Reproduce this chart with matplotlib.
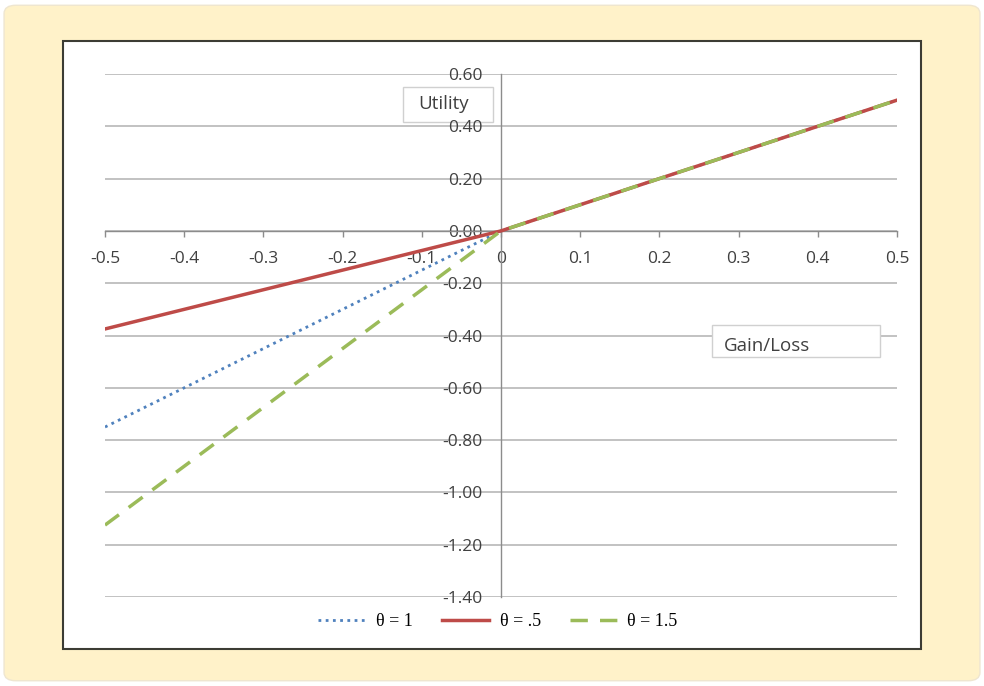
import matplotlib.pyplot as plt
from matplotlib.patches import Rectangle, FancyBboxPatch

# gain/loss values and utility for each theta
x = [-0.5, -0.4, -0.3, -0.2, -0.1, 0.0, 0.1, 0.2, 0.3, 0.4, 0.5]
u_theta1 = [-0.75, -0.60, -0.45, -0.30, -0.15, 0.0, 0.1, 0.2, 0.3, 0.4, 0.5]
u_theta05 = [-0.375, -0.30, -0.225, -0.15, -0.075, 0.0, 0.1, 0.2, 0.3, 0.4, 0.5]
u_theta15 = [-1.125, -0.90, -0.675, -0.45, -0.225, 0.0, 0.1, 0.2, 0.3, 0.4, 0.5]

xticks = [-0.5, -0.4, -0.3, -0.2, -0.1, 0, 0.1, 0.2, 0.3, 0.4, 0.5]
xtick_labels = ['-0.5', '-0.4', '-0.3', '-0.2', '-0.1', '0', '0.1', '0.2', '0.3', '0.4', '0.5']
yticks = [0.6, 0.4, 0.2, 0.0, -0.2, -0.4, -0.6, -0.8, -1.0, -1.2, -1.4]

W, H = 984, 686


def fx(px):
    return px / W


def fy(py):
    return 1 - py / H


fig = plt.figure(figsize=(W / 100, H / 100), dpi=100, facecolor='white')

# cream frame and white chart area
fig.patches.append(FancyBboxPatch((fx(8), fy(678)), fx(968), (674 - 4) / H,
                                  boxstyle='round,pad=0.004,rounding_size=0.012',
                                  transform=fig.transFigure, facecolor='#FFF2C9',
                                  edgecolor='#EFE6D0', lw=1, zorder=-2))
fig.patches.append(Rectangle((fx(63), fy(649)), (921 - 63) / W, (649 - 41) / H,
                             transform=fig.transFigure, facecolor='white',
                             edgecolor='#3C3C34', lw=1.5, zorder=-1))

ax = fig.add_axes([fx(105), fy(597), (897 - 105) / W, (597 - 74) / H])
ax.set_facecolor('none')
ax.set_xlim(-0.5, 0.5)
ax.set_ylim(-1.4, 0.6)

for yv in yticks:
    ax.axhline(yv, color='#BDBDBD', lw=1.3, zorder=0.5)

for s in ['top', 'right']:
    ax.spines[s].set_visible(False)
ax.spines['left'].set_position(('data', 0))
ax.spines['bottom'].set_position(('data', 0))
ax.spines['left'].set_color('#8C8C8C')
ax.spines['bottom'].set_color('#8C8C8C')
ax.spines['left'].set_linewidth(1)
ax.spines['bottom'].set_linewidth(1)

tick_font = dict(family='Open Sans', size=12.5, color='#404040')
ax.set_xticks(xticks)
ax.set_xticklabels(xtick_labels, **tick_font)
ax.set_yticks(yticks)
ax.set_yticklabels(['%.2f' % v for v in yticks], **tick_font)
ax.tick_params(axis='x', direction='out', length=4.5, width=1, color='#8C8C8C', pad=10)
ax.tick_params(axis='y', length=0, pad=13)

ax.plot(x, u_theta1, color='#4F81BD', lw=2, linestyle=(0, (1, 1.6)), label='θ = 1', zorder=3)
ax.plot(x, u_theta05, color='#BE4B48', lw=2.5, label='θ = .5', zorder=3.1)
ax.plot(x, u_theta15, color='#9BBB59', lw=2.5, linestyle=(0, (5, 3.5)), label='θ = 1.5', zorder=3.2)

# axis caption boxes
ax.add_patch(Rectangle((fx(403), fy(122)), (493 - 403) / W, (122 - 87) / H,
                       transform=fig.transFigure, facecolor='white',
                       edgecolor='#D0D0D0', lw=1, zorder=1.2))
fig.text(fx(418), fy(104), 'Utility', family='Open Sans', size=13.5,
         color='#404040', va='center', ha='left', zorder=5)
ax.add_patch(Rectangle((fx(712), fy(357)), (880 - 712) / W, (357 - 325) / H,
                       transform=fig.transFigure, facecolor='white',
                       edgecolor='#D0D0D0', lw=1, zorder=1.2))
fig.text(fx(724), fy(346), 'Gain/Loss', family='Open Sans', size=13.5,
         color='#404040', va='center', ha='left', zorder=5)

fig.legend(loc='center', bbox_to_anchor=(fx(498), fy(622)), ncol=3, frameon=False,
           prop={'family': 'Liberation Serif', 'size': 13}, handlelength=2.6,
           handletextpad=0.6, columnspacing=1.6)

fig.savefig('out.png', dpi=100, facecolor=fig.get_facecolor())
